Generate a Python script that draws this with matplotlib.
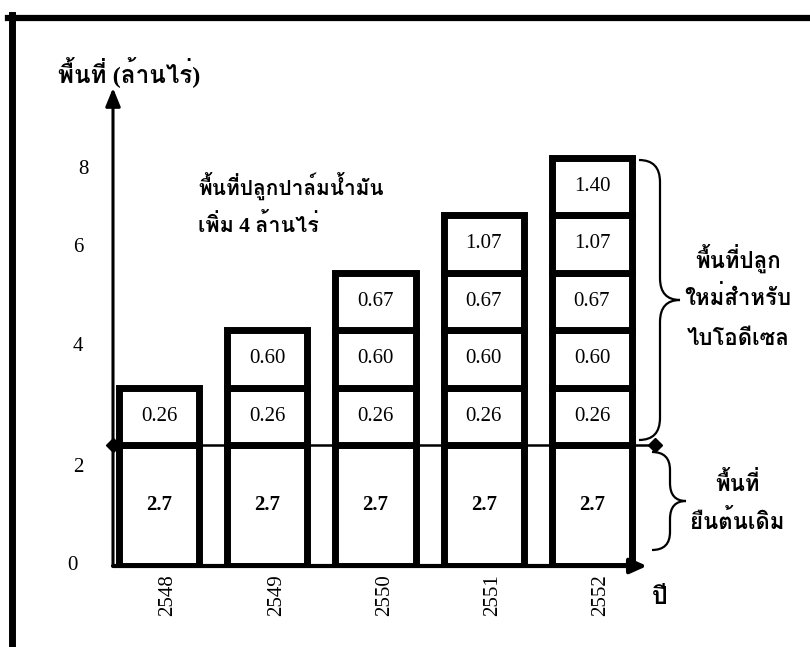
import matplotlib
matplotlib.use("Agg")
import matplotlib.pyplot as plt
from matplotlib.path import Path
from matplotlib.patches import PathPatch
from matplotlib.transforms import ScaledTranslation
import numpy as np

# plantation area, million rai
years = ["2548", "2549", "2550", "2551", "2552"]
base_area = 2.7                                  # existing plantations
new_area = [0.26, 0.60, 0.67, 1.07, 1.40]        # new planting added each year
y_ticks = [0, 2, 4, 6, 8]

serif = ["Liberation Serif", "Loma"]
thai = ["Liberation Serif", "Loma"]   # latin/digits in serif, thai falls through to Loma

# every block gets the same visual height, the base block about twice that
block_px = 57.5
base_px = 121.0
cum = np.concatenate([[0, base_area], base_area + np.cumsum(new_area)])
vis = np.concatenate([[0, base_px], base_px + block_px * np.arange(1, len(new_area) + 1)])
# extend past the top so the axis can reach the arrow
cum = np.append(cum, cum[-1] + 3)
vis = np.append(vis, vis[-1] + 3 * block_px / new_area[-1])

def fwd(v):
    return np.interp(v, cum, vis)

def inv(p):
    return np.interp(p, vis, cum)

W, H = 810, 647
fig = plt.figure(figsize=(W / 100, H / 100), dpi=100)

# frame round the whole figure
fig.add_artist(plt.Line2D([8 / W, 1], [1 - 18 / H] * 2, lw=4.5, color="black"))
fig.add_artist(plt.Line2D([11.5 / W] * 2, [0, 1 - 15 / H], lw=5, color="black"))

left, right, bottom, top = 113, 650, 566, 88
ax = fig.add_axes([left / W, 1 - bottom / H, (right - left) / W, (bottom - top) / H])
ax.set_yscale("function", functions=(fwd, inv))
x = np.arange(len(years))
step = 108.25
xmin = -(159 - left) / step
ax.set_xlim(xmin, xmin + (right - left) / step)
ax.set_ylim(0, inv(bottom - top))
for s in ax.spines.values():
    s.set_visible(False)
ax.set_xticks([])
ax.set_yticks([])

# stacked blocks
bw = 0.74
ax.bar(x, [base_area] * len(years), width=bw, color="white", edgecolor="black", lw=5, zorder=2)
bottoms = np.full(len(years), base_area)
for i, v in enumerate(new_area):
    idx = x[i:]
    ax.bar(idx, v, bottom=bottoms[i:], width=bw, color="white", edgecolor="black", lw=5, zorder=2)
    for j in idx:
        ax.text(j, bottoms[j] + v / 2, f"{v:.2f}", ha="center", va="center",
                fontsize=15, family=serif, zorder=3)
    bottoms[i:] += v
for j in x:
    ax.text(j, base_area / 2, f"{base_area:.1f}", ha="center", va="center",
            fontsize=15, fontweight="bold", family=serif, zorder=3)

# axes arrows
ax.annotate("", xy=(0, 1), xytext=(0, 0), xycoords="axes fraction",
            arrowprops=dict(arrowstyle="-|>,head_length=1.1,head_width=0.45", lw=2.2, color="black",
                            shrinkA=0, shrinkB=0), annotation_clip=False)
ax.annotate("", xy=((647 - left) / (right - left), 0), xytext=(0, 0), xycoords="axes fraction",
            arrowprops=dict(arrowstyle="-|>,head_length=1.0,head_width=0.45", lw=3, color="black",
                            shrinkA=0, shrinkB=0), annotation_clip=False)

# divider between old and new area
x_end = xmin + (655 - left) / step
ax.plot([xmin, x_end], [base_area, base_area], color="black", lw=1.8, zorder=4,
        marker="D", markersize=7, clip_on=False)

# y tick labels
ypix = {0: 566, 2: 468, 4: 347, 6: 248, 8: 170}
for t, xo in zip(y_ticks, [72, 78, 78, 78, 83]):
    fig.text(xo / W, 1 - ypix[t] / H, str(t), ha="center", va="center", fontsize=15, family=serif)

# year labels under the blocks
for j, yr in zip(x, years):
    ax.text(j, 0, yr, rotation=90, ha="center", va="top", fontsize=15, family=serif,
            transform=ax.get_xaxis_transform() + ScaledTranslation(9 / 100, -8 / 100, fig.dpi_scale_trans))
fig.text(660 / W, 1 - 598 / H, "ปี", ha="center", va="center", fontsize=18, fontweight="bold", family=thai)

# titles and notes
fig.text(58 / W, 1 - 72 / H, "พื้นที่ (ล้านไร่)", ha="left", va="center", fontsize=17.5,
         fontweight="bold", family=thai)
fig.text(198 / W, 1 - 186 / H, "พื้นที่ปลูกปาล์มน้ำมัน", ha="left", va="center", fontsize=15,
         fontweight="bold", family=thai)
fig.text(198 / W, 1 - 225 / H, "เพิ่ม 4 ล้านไร่", ha="left", va="center", fontsize=15.5,
         fontweight="bold", family=thai)
for txt, yp in zip(["พื้นที่ปลูก", "ใหม่สำหรับ", "ไบโอดีเซล"], [258, 298, 340]):
    fig.text(738 / W, 1 - yp / H, txt, ha="center", va="center", fontsize=16,
             fontweight="bold", family=thai)
for txt, yp in zip(["พื้นที่", "ยืนต้นเดิม"], [484, 522]):
    fig.text(738 / W, 1 - yp / H, txt, ha="center", va="center", fontsize=16,
             fontweight="bold", family=thai)


def brace(x0, xm, xt, yt, yb, r):
    # right-pointing curly brace in pixel coordinates (y downward)
    ym = (yt + yb) / 2
    pts = [(x0, yt), (xm, yt), (xm, yt + r),
           (xm, ym - r), (xm, ym), (xt, ym),
           (xm, ym), (xm, ym + r),
           (xm, yb - r), (xm, yb), (x0, yb)]
    codes = [Path.MOVETO, Path.CURVE3, Path.CURVE3,
             Path.LINETO, Path.CURVE3, Path.CURVE3,
             Path.CURVE3, Path.CURVE3,
             Path.LINETO, Path.CURVE3, Path.CURVE3]
    pts = [(px / W, 1 - py / H) for px, py in pts]
    fig.add_artist(PathPatch(Path(pts, codes), fill=False, lw=1.6, color="black",
                             transform=fig.transFigure))


brace(639, 660, 680, 160, 440, 22)
brace(652, 670, 686, 452, 550, 18)

fig.savefig("out.png", dpi=100)
